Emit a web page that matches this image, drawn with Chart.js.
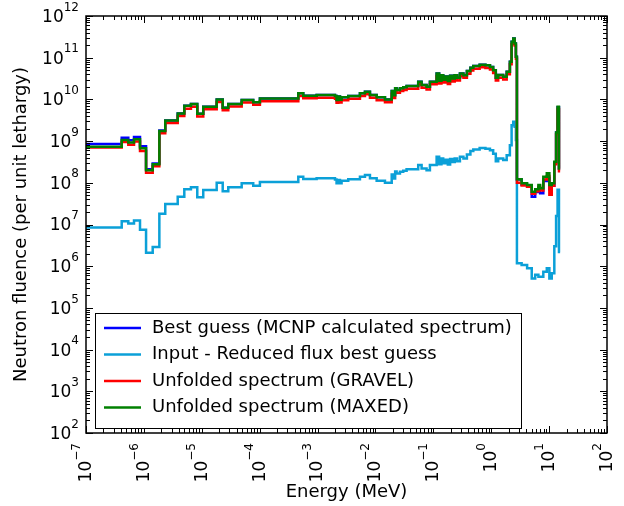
<!DOCTYPE html>
<html>
<head>
<meta charset="utf-8">
<script src="https://cdn.jsdelivr.net/npm/chart.js@4/dist/chart.umd.min.js"></script>
<style>
  html, body { margin: 0; padding: 0; background: #fff; }
  canvas { display: block; }
</style>
</head>
<body>
<canvas id="spectrum" width="624" height="506"></canvas>
<script>
// bin edges in MeV (one more than the values of each series)
const energyEdges = [
  1.0e-7, 4.14e-7, 5.38e-7, 6.75e-7, 8.57e-7, 1.09e-6, 1.42e-6, 1.85e-6, 2.34e-6, 3.84e-6,
  4.99e-6, 6.5e-6, 8.36e-6, 1.06e-5, 1.81e-5, 2.3e-5, 2.87e-5, 4.89e-5, 7.74e-5, 1.01e-4,
  4.65e-4, 5.66e-4, 9.64e-4, 2.0e-3, 2.13e-3, 2.28e-3, 2.44e-3, 2.6e-3, 3.39e-3, 5.4e-3,
  6.59e-3, 8.04e-3, 1.05e-2, 1.46e-2, 1.91e-2, 2.09e-2, 2.19e-2, 2.32e-2, 2.65e-2, 3.02e-2,
  3.45e-2, 5.48e-2, 6.27e-2, 7.64e-2, 8.73e-2, 0.114, 0.126, 0.138, 0.148, 0.162,
  0.178, 0.195, 0.214, 0.234, 0.257, 0.288, 0.331, 0.38, 0.437, 0.49,
  0.631, 0.794, 0.951, 1.08, 1.2, 1.32, 1.61, 1.85, 2.1, 2.25,
  2.4, 2.54, 2.67, 2.78, 3.35, 4.17, 5.01, 5.75, 6.53, 7.0,
  7.94, 9.12, 10.1, 11.1, 12.3, 13.2, 14.0, 14.8, 15.5
];

const bestGuess = [
  8.5e8, 1.2e9, 1.05e9, 1.25e9, 7.5e8, 2.1e8, 2.9e8, 1.8e9, 3.1e9, 4.6e9,
  7.0e9, 7.8e9, 4.5e9, 6.7e9, 1.0e10, 6.3e9, 7.8e9, 9.7e9, 8.5e9, 1.05e10,
  1.4e10, 1.23e10, 1.28e10, 1.2e10, 9.7e9, 1.17e10, 9.8e9, 1.12e10, 1.21e10, 1.4e10,
  1.53e10, 1.28e10, 1.12e10, 1.0e10, 1.58e10, 1.26e10, 1.86e10, 1.68e10, 1.85e10, 1.95e10,
  2.1e10, 2.66e10, 2.2e10, 2.0e10, 2.66e10, 4.2e10, 2.8e10, 3.8e10, 2.95e10, 3.55e10,
  2.75e10, 3.7e10, 3.15e10, 3.8e10, 3.3e10, 4.2e10, 3.8e10, 4.8e10, 5.75e10, 6.3e10,
  6.8e10, 6.6e10, 6.0e10, 5.0e10, 3.3e10, 3.85e10, 3.5e10, 4.6e10, 8.0e10, 2.4e11,
  2.9e11, 2.2e11, 1.06e11, 1.2e8, 9.0e7, 8.0e7, 4.6e7, 6.0e7, 7.5e7, 5.6e7,
  1.1e8, 1.3e8, 7.0e7, 8.5e7, 3.0e8, 1.6e9, 6.5e9, 2.2e8
];

const reducedInput = [
  8.5e6, 1.2e7, 1.05e7, 1.25e7, 7.5e6, 2.1e6, 2.9e6, 1.8e7, 3.1e7, 4.6e7,
  7.0e7, 7.8e7, 4.5e7, 6.7e7, 1.0e8, 6.3e7, 7.8e7, 9.7e7, 8.5e7, 1.05e8,
  1.4e8, 1.23e8, 1.28e8, 1.2e8, 9.7e7, 1.17e8, 9.8e7, 1.12e8, 1.21e8, 1.4e8,
  1.53e8, 1.28e8, 1.12e8, 1.0e8, 1.58e8, 1.26e8, 1.86e8, 1.68e8, 1.85e8, 1.95e8,
  2.1e8, 2.66e8, 2.2e8, 2.0e8, 2.66e8, 4.2e8, 2.8e8, 3.8e8, 2.95e8, 3.55e8,
  2.75e8, 3.7e8, 3.15e8, 3.8e8, 3.3e8, 4.2e8, 3.8e8, 4.8e8, 5.75e8, 6.3e8,
  6.8e8, 6.6e8, 6.0e8, 5.0e8, 3.3e8, 3.85e8, 3.5e8, 4.6e8, 8.0e8, 2.4e9,
  2.9e9, 2.2e9, 1.06e9, 1.17e6, 1.07e6, 8.9e5, 5.1e5, 6.2e5, 5.6e5, 5.6e5,
  7.4e5, 8.9e5, 5.1e5, 6.8e5, 3.0e6, 1.6e7, 6.8e7, 2.2e6
];

const gravel = [
  7.0e8, 9.5e8, 8.2e8, 9.8e8, 5.8e8, 1.75e8, 2.5e8, 1.55e9, 2.7e9, 4.0e9,
  6.0e9, 6.7e9, 3.9e9, 5.8e9, 8.7e9, 5.5e9, 6.8e9, 8.4e9, 7.4e9, 9.0e9,
  1.2e10, 1.06e10, 1.1e10, 1.03e10, 8.3e9, 1.0e10, 8.4e9, 9.6e9, 1.04e10, 1.2e10,
  1.32e10, 1.1e10, 9.6e9, 8.6e9, 1.36e10, 1.08e10, 1.6e10, 1.45e10, 1.6e10, 1.68e10,
  1.8e10, 2.3e10, 1.9e10, 1.72e10, 2.3e10, 3.6e10, 2.4e10, 3.3e10, 2.55e10, 3.05e10,
  2.35e10, 3.2e10, 2.7e10, 3.3e10, 2.85e10, 3.6e10, 3.3e10, 4.1e10, 4.95e10, 5.4e10,
  5.9e10, 5.7e10, 5.2e10, 4.3e10, 2.85e10, 3.3e10, 3.0e10, 4.0e10, 7.0e10, 2.1e11,
  2.6e11, 1.95e11, 9.5e10, 1.0e8, 8.6e7, 8.0e7, 5.5e7, 6.3e7, 8.0e7, 6.5e7,
  1.2e8, 1.45e8, 5.2e7, 8.5e7, 2.8e8, 1.45e9, 5.9e9, 1.9e8
];

const maxed = [
  7.3e8, 1.06e9, 9.2e8, 1.1e9, 6.7e8, 2.0e8, 2.8e8, 1.75e9, 3.1e9, 4.6e9,
  7.0e9, 7.8e9, 4.5e9, 6.7e9, 1.0e10, 6.3e9, 7.8e9, 9.7e9, 8.5e9, 1.05e10,
  1.4e10, 1.23e10, 1.28e10, 1.2e10, 9.7e9, 1.17e10, 9.8e9, 1.12e10, 1.21e10, 1.4e10,
  1.53e10, 1.28e10, 1.12e10, 1.0e10, 1.58e10, 1.26e10, 1.86e10, 1.68e10, 1.85e10, 1.95e10,
  2.1e10, 2.66e10, 2.2e10, 2.0e10, 2.66e10, 4.2e10, 2.8e10, 3.8e10, 2.95e10, 3.55e10,
  2.75e10, 3.7e10, 3.15e10, 3.8e10, 3.3e10, 4.2e10, 3.8e10, 4.8e10, 5.75e10, 6.3e10,
  6.8e10, 6.6e10, 6.0e10, 5.0e10, 3.3e10, 3.85e10, 3.5e10, 4.6e10, 8.0e10, 2.4e11,
  2.9e11, 2.2e11, 1.06e11, 1.21e8, 9.7e7, 8.9e7, 6.1e7, 7.0e7, 8.9e7, 7.4e7,
  1.4e8, 1.69e8, 8.9e7, 9.7e7, 3.2e8, 1.6e9, 6.7e9, 2.2e8
];

const seriesLabels = [
  'Best guess (MCNP calculated spectrum)',
  'Input - Reduced flux best guess',
  'Unfolded spectrum (GRAVEL)',
  'Unfolded spectrum (MAXED)'
];
const seriesColors = ['#0000ff', '#0ba0d8', '#ff0000', '#008000'];

const xTickExponents = [-7, -6, -5, -4, -3, -2, -1, 0, 1, 2];
const yTickExponents = [2, 3, 4, 5, 6, 7, 8, 9, 10, 11, 12];

const FONT = '"DejaVu Sans", sans-serif';

function stepPoints(values) {
  const pts = values.map((v, i) => ({ x: energyEdges[i], y: v }));
  pts.push({ x: energyEdges[values.length], y: values[values.length - 1] });
  return pts;
}

function supText(n) {
  return String(n).replace('-', '\u2212');
}

function drawPower(ctx, exp, rightX, midY) {
  const base = '10';
  const sup = supText(exp);
  ctx.font = '17px ' + FONT;
  const wb = ctx.measureText(base).width;
  ctx.font = '12px ' + FONT;
  const we = ctx.measureText(sup).width;
  const left = rightX - wb - we;
  ctx.textBaseline = 'middle';
  ctx.textAlign = 'left';
  ctx.font = '17px ' + FONT;
  ctx.fillText(base, left, midY + 1.5);
  ctx.font = '12px ' + FONT;
  ctx.fillText(sup, left + wb, midY - 8.5);
}

const mplFrame = {
  id: 'mplFrame',
  afterDraw(chart) {
    const { ctx, chartArea: a, scales } = chart;
    const xs = scales.x, ys = scales.y;
    ctx.save();
    ctx.strokeStyle = '#000';
    ctx.fillStyle = '#000';

    // ticks on all four sides, pointing inward
    ctx.lineWidth = 1;
    ctx.beginPath();
    xTickExponents.forEach(e => {
      for (let m = 1; m <= 9; m++) {
        const v = m * Math.pow(10, e);
        if (v > xs.max * 1.0001) break;
        const px = Math.round(xs.getPixelForValue(v)) + 0.5;
        const len = m === 1 ? 7 : 4;
        ctx.moveTo(px, a.bottom); ctx.lineTo(px, a.bottom - len);
        ctx.moveTo(px, a.top); ctx.lineTo(px, a.top + len);
      }
    });
    yTickExponents.forEach(e => {
      for (let m = 1; m <= 9; m++) {
        const v = m * Math.pow(10, e);
        if (v > ys.max * 1.0001) break;
        const py = Math.round(ys.getPixelForValue(v)) + 0.5;
        const len = m === 1 ? 7 : 4;
        ctx.moveTo(a.left, py); ctx.lineTo(a.left + len, py);
        ctx.moveTo(a.right, py); ctx.lineTo(a.right - len, py);
      }
    });
    ctx.stroke();

    // frame
    ctx.lineWidth = 1.5;
    ctx.strokeRect(a.left, a.top, a.right - a.left, a.bottom - a.top);

    // y tick labels
    yTickExponents.forEach(e => {
      const py = ys.getPixelForValue(Math.pow(10, e));
      drawPower(ctx, e, a.left - 7, py);
    });

    // x tick labels, rotated to read upward
    xTickExponents.forEach(e => {
      const px = xs.getPixelForValue(Math.pow(10, e));
      ctx.save();
      ctx.translate(px, a.bottom + 10);
      ctx.rotate(-Math.PI / 2);
      drawPower(ctx, e, 0, -1);
      ctx.restore();
    });

    // axis titles
    ctx.font = '18px ' + FONT;
    ctx.textAlign = 'center';
    ctx.textBaseline = 'middle';
    ctx.fillText('Energy (MeV)', (a.left + a.right) / 2, 492);
    ctx.save();
    ctx.translate(21, (a.top + a.bottom) / 2);
    ctx.rotate(-Math.PI / 2);
    ctx.fillText('Neutron fluence (per unit lethargy)', 0, 0);
    ctx.restore();

    // legend box
    const box = { left: 95, top: 313, width: 426, height: 115 };
    ctx.fillStyle = '#fff';
    ctx.fillRect(box.left, box.top, box.width, box.height);
    ctx.lineWidth = 1;
    ctx.strokeStyle = '#000';
    ctx.strokeRect(box.left + 0.5, box.top + 0.5, box.width, box.height);
    ctx.font = '18px ' + FONT;
    ctx.textAlign = 'left';
    ctx.textBaseline = 'middle';
    chart.data.datasets.forEach((ds, i) => {
      const yRow = box.top + 15 + i * 26.5;
      ctx.strokeStyle = ds.borderColor;
      ctx.lineWidth = 2.5;
      ctx.beginPath();
      ctx.moveTo(104, yRow);
      ctx.lineTo(141, yRow);
      ctx.stroke();
      ctx.fillStyle = '#000';
      ctx.fillText(ds.label, 152, yRow);
    });
    ctx.restore();
  }
};

const datasets = [bestGuess, reducedInput, gravel, maxed].map((vals, i) => ({
  label: seriesLabels[i],
  data: stepPoints(vals),
  borderColor: seriesColors[i],
  backgroundColor: seriesColors[i],
  borderWidth: 2.5,
  pointRadius: 0,
  stepped: 'before',
  fill: false,
  order: 4 - i
}));

new Chart(document.getElementById('spectrum'), {
  type: 'line',
  data: { datasets },
  options: {
    responsive: false,
    animation: false,
    devicePixelRatio: 1,
    layout: { padding: { left: 86, right: 17, top: 16, bottom: 73 } },
    plugins: {
      legend: { display: false },
      tooltip: { enabled: false }
    },
    scales: {
      x: { type: 'logarithmic', min: 1e-7, max: 1e2, display: false },
      y: { type: 'logarithmic', min: 1e2, max: 1e12, display: false }
    }
  },
  plugins: [mplFrame]
});
</script>
</body>
</html>
